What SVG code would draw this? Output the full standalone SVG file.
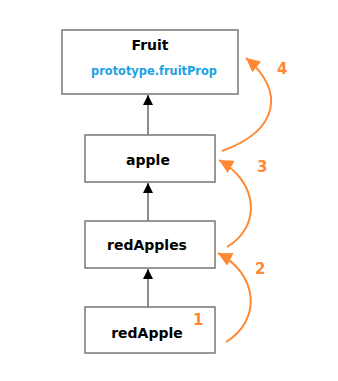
<svg xmlns="http://www.w3.org/2000/svg" width="338" height="381" viewBox="0 0 338 381">
  <style>
    .box { fill: #ffffff; stroke: #767676; stroke-width: 1.5; }
    .name { font-family: "DejaVu Sans", Verdana, sans-serif; font-weight: bold; font-size: 14px; fill: #000000; text-anchor: middle; }
    .prop { font-family: "DejaVu Sans", Verdana, sans-serif; font-weight: bold; font-size: 11.4px; fill: #1ba1e2; text-anchor: middle; }
    .step { font-family: "DejaVu Sans", Verdana, sans-serif; font-weight: bold; font-size: 15px; fill: #ff8833; }
    .link { stroke: #666666; stroke-width: 1.5; fill: none; }
    .chain { stroke: #ff8833; stroke-width: 2; fill: none; }
  </style>
  <defs>
    <marker id="up" viewBox="0 0 10 10" refX="10" refY="5" markerWidth="10" markerHeight="10" markerUnits="userSpaceOnUse" orient="auto">
      <path d="M0,0 L10,5 L0,10 Z" fill="#000000"/>
    </marker>
    <marker id="hop" viewBox="0 0 12 12" refX="12" refY="6" markerWidth="14" markerHeight="14" markerUnits="userSpaceOnUse" orient="auto">
      <path d="M0,0 L12,6 L0,12 Z" fill="#ff8833"/>
    </marker>
  </defs>

  <g id="connectors">
    <line class="link" x1="148" y1="135" x2="148" y2="95" marker-end="url(#up)"/>
    <line class="link" x1="148" y1="221" x2="148" y2="183" marker-end="url(#up)"/>
    <line class="link" x1="148" y1="307" x2="148" y2="269" marker-end="url(#up)"/>
    <path class="chain" d="M226,342 C262,320 258,274 218,253" marker-end="url(#hop)"/>
    <path class="chain" d="M227,247 C262,226 258,182 219,160" marker-end="url(#hop)"/>
    <path class="chain" d="M222,151 C280,130 285,90 246,58" marker-end="url(#hop)"/>
  </g>

  <g id="fruit">
    <rect class="box" x="62" y="30" width="176" height="64"/>
    <text class="name" x="150" y="50">Fruit</text>
    <text class="prop" x="154" y="75">prototype.fruitProp</text>
  </g>

  <g id="apple">
    <rect class="box" x="85" y="135" width="130" height="47"/>
    <text class="name" x="148" y="165">apple</text>
  </g>

  <g id="redApples">
    <rect class="box" x="85" y="221" width="130" height="47"/>
    <text class="name" x="147" y="250">redApples</text>
  </g>

  <g id="redApple">
    <rect class="box" x="85" y="307" width="130" height="46"/>
    <text class="name" x="147" y="338">redApple</text>
  </g>

  <g id="steps">
    <text class="step" x="193" y="325">1</text>
    <text class="step" x="255" y="274">2</text>
    <text class="step" x="257" y="172">3</text>
    <text class="step" x="277" y="74">4</text>
  </g>
</svg>
